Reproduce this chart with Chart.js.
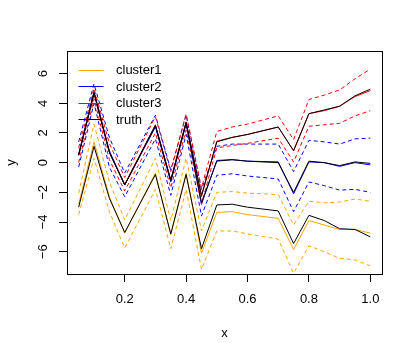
<!DOCTYPE html>
<html>
<head>
<meta charset="utf-8">
<script src="https://cdn.jsdelivr.net/npm/chart.js@4"></script>
<style>
  html, body { margin: 0; padding: 0; background: #fff; }
  #wrap { width: 415px; height: 343px; }
</style>
</head>
<body>
<div id="wrap"><canvas id="myChart" width="415" height="343"></canvas></div>
<script>
// x positions of the observations
const xs = [0.05, 0.1, 0.15, 0.2, 0.3, 0.35, 0.4, 0.45, 0.5, 0.55, 0.6, 0.7, 0.75, 0.8, 0.85, 0.9, 0.95, 1.0];

// cluster1 (orange): mean and dashed band
const c1Mean  = [-2.8, 1.4, -2.3, -4.75, -0.7, -4.85, -0.7, -6.1, -3.35, -3.3, -3.5, -3.75, -5.85, -3.9, -4.2, -4.5, -4.5, -4.75];
const c1Upper = [-2.05, 2.6, -1.3, -3.85, 0.3, -3.9, 0.3, -4.6, -2.0, -1.95, -2.05, -2.15, -4.2, -2.6, -2.7, -2.65, -2.45, -2.6];
const c1Lower = [-3.5, 0.3, -3.3, -5.75, -1.8, -5.8, -1.8, -7.2, -4.6, -4.6, -4.8, -5.15, -7.45, -5.6, -6.0, -6.45, -6.55, -6.95];

// cluster2 (blue)
const c2Mean  = [0.6, 4.8, 0.8, -1.5, 2.4, -1.3, 2.6, -2.8, 0.15, 0.2, 0.1, 0.05, -2.1, 0.05, 0.0, -0.25, 0.0, -0.15];
const c2Upper = [1.4, 5.3, 1.7, -0.7, 3.2, -0.5, 3.2, -1.8, 1.1, 1.25, 1.25, 1.25, -0.6, 1.5, 1.4, 1.25, 1.6, 1.65];
const c2Lower = [-0.3, 4.0, -0.3, -2.3, 1.6, -2.2, 1.9, -3.6, -0.85, -0.75, -0.9, -1.1, -3.3, -1.3, -1.55, -1.85, -1.8, -2.0];

// cluster3 (red)
const c3Mean  = [0.5, 4.65, 0.7, -1.45, 2.55, -1.15, 2.75, -2.3, 1.45, 1.7, 1.9, 2.4, 0.8, 3.3, 3.5, 3.8, 4.45, 4.85];
const c3Upper = [1.0, 5.0, 1.3, -1.0, 3.1, -0.6, 3.3, -1.7, 2.1, 2.4, 2.6, 3.15, 1.55, 4.25, 4.55, 4.9, 5.65, 6.3];
const c3Lower = [0.0, 4.3, 0.2, -1.9, 2.0, -1.7, 2.2, -2.8, 1.0, 1.15, 1.3, 1.65, 0.05, 2.45, 2.55, 2.65, 3.15, 3.5];

// true curves, one per cluster
const truth1 = [-3.0, 1.1, -2.4, -4.7, -0.8, -4.8, -0.8, -5.8, -2.85, -2.8, -3.0, -3.25, -5.45, -3.55, -3.9, -4.45, -4.5, -5.0];
const truth2 = [0.5, 4.7, 0.7, -1.5, 2.5, -1.2, 2.7, -2.7, 0.1, 0.2, 0.1, 0.0, -2.0, 0.1, 0.0, -0.2, 0.05, -0.05];
const truth3 = [0.5, 4.7, 0.7, -1.5, 2.5, -1.2, 2.7, -2.2, 1.4, 1.7, 1.9, 2.4, 0.8, 3.3, 3.55, 3.8, 4.5, 4.95];

const xTicks = [0.2, 0.4, 0.6, 0.8, 1.0];
const yTicks = [-6, -4, -2, 0, 2, 4, 6];

const legendNames = ['cluster1', 'cluster2', 'cluster3', 'truth'];
const legendColors = ['orange', 'blue', 'red', 'black'];

const FONT = '13px "Liberation Sans", Arial, sans-serif';

function pts(arr) {
    return arr.map((y, i) => ({ x: xs[i], y: y }));
}

function serie(arr, color, dashed, order) {
    return {
        data: pts(arr),
        borderColor: color,
        borderWidth: 1,
        borderDash: dashed ? [4, 3] : [],
        pointRadius: 0,
        tension: 0,
        fill: false,
        order: order
    };
}

// frame, rotated y labels, axis titles and legend, R style
const rStyle = {
    id: 'rStyle',
    afterDraw(chart) {
        const c = chart.ctx;
        const a = chart.chartArea;
        const ys = chart.scales.y;
        c.save();
        c.strokeStyle = '#000';
        c.lineWidth = 1;
        c.strokeRect(Math.round(a.left) + 0.5, Math.round(a.top) + 0.5,
            Math.round(a.right - a.left), Math.round(a.bottom - a.top));

        c.fillStyle = '#000';
        c.font = FONT;
        c.textAlign = 'center';
        c.textBaseline = 'middle';
        yTicks.forEach(v => {
            c.save();
            c.translate(43, ys.getPixelForValue(v));
            c.rotate(-Math.PI / 2);
            c.fillText(String(v).replace('-', '\u2212'), 0, 0);
            c.restore();
        });

        c.fillText('x', (a.left + a.right) / 2, 333);
        c.save();
        c.translate(11, (a.top + a.bottom) / 2);
        c.rotate(-Math.PI / 2);
        c.fillText('y', 0, 0);
        c.restore();

        c.textAlign = 'left';
        legendNames.forEach((name, i) => {
            const yy = 69.5 + i * 16.6;
            c.strokeStyle = legendColors[i];
            c.beginPath();
            c.moveTo(78.5, Math.round(yy) + 0.5);
            c.lineTo(103.5, Math.round(yy) + 0.5);
            c.stroke();
            c.fillText(name, 116, yy + 1);
        });
        c.restore();
    }
};

ctx = document.getElementById('myChart').getContext('2d');
const grafica = new Chart(ctx, {
    type: 'line',
    data: {
        datasets: [
            serie(c1Upper, 'orange', true, 5),
            serie(c1Lower, 'orange', true, 5),
            serie(c1Mean, 'orange', false, 4),
            serie(c2Upper, 'blue', true, 3),
            serie(c2Lower, 'blue', true, 3),
            serie(c2Mean, 'blue', false, 2),
            serie(c3Upper, 'red', true, 1.5),
            serie(c3Lower, 'red', true, 1.5),
            serie(c3Mean, 'red', false, 1),
            serie(truth1, 'black', false, 0),
            serie(truth2, 'black', false, 0),
            serie(truth3, 'black', false, 0)
        ]
    },
    options: {
        responsive: false,
        animation: false,
        layout: { padding: { top: 51, right: 33, left: 0, bottom: 0 } },
        plugins: { legend: { display: false }, tooltip: { enabled: false } },
        scales: {
            x: {
                type: 'linear',
                min: 0.012,
                max: 1.038,
                afterFit: s => { s.height = 69; },
                afterBuildTicks: s => { s.ticks = xTicks.map(v => ({ value: v })); },
                grid: { drawOnChartArea: false, drawTicks: true, tickLength: 8, color: '#000' },
                border: { display: false },
                ticks: {
                    color: '#000',
                    font: { family: '"Liberation Sans", Arial, sans-serif', size: 13 },
                    padding: 10,
                    maxRotation: 0,
                    callback: v => v.toFixed(1)
                }
            },
            y: {
                type: 'linear',
                min: -7.5,
                max: 7.52,
                afterFit: s => { s.width = 67; },
                afterBuildTicks: s => { s.ticks = yTicks.map(v => ({ value: v })); },
                grid: { drawOnChartArea: false, drawTicks: true, tickLength: 8, color: '#000' },
                border: { display: false },
                ticks: { display: false }
            }
        }
    },
    plugins: [rStyle]
});
</script>
</body>
</html>
